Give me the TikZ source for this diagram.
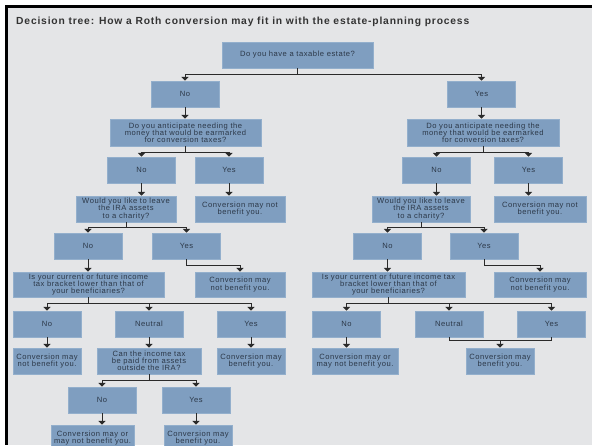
\documentclass[tikz,border=0pt]{standalone}
\usepackage{fontspec}
\setmainfont{Liberation Sans}
\newfontfamily\boxfont[LetterSpace=7]{Liberation Sans}
\newfontfamily\titlefont[LetterSpace=8]{Liberation Sans}
\usetikzlibrary{arrows.meta}
\definecolor{bgc}{HTML}{E4E5E7}
\definecolor{boxblue}{HTML}{7F9EC0}
\definecolor{boxedge}{HTML}{93AFCC}
\definecolor{boxtext}{HTML}{2C3848}
\definecolor{linec}{HTML}{2A2A2A}
\definecolor{titlec}{HTML}{333333}
\begin{document}
\begin{tikzpicture}[x=1pt,y=-1pt,
  bx/.style={rectangle, fill=boxblue, draw=boxedge, line width=0.5pt, inner sep=0pt,
    minimum width=68pt, minimum height=26pt, align=center, text=boxtext,
    font={\boxfont\fontsize{7.6}{7.1}\selectfont}},
  conn/.style={draw=linec, line width=0.9pt},
  arr/.style={conn, -{Triangle[width=7pt,length=3.8pt]}}]
\useasboundingbox (0,0) rectangle (592,445);
\clip (0,0) rectangle (592,445);
\fill[white] (0,0) rectangle (592,445);
\fill[bgc] (5,5) rectangle (592,445);
\fill[black] (5,5) rectangle (592,8);
\fill[black] (5,5) rectangle (8,445);
\node[anchor=base west, inner sep=0pt, text=titlec, font={\titlefont\bfseries\fontsize{10.3}{12}\selectfont}] (title) at (16,24) {Decision tree: How a Roth conversion may fit in with the estate-planning process};

% top
\node[bx, minimum width=151pt] (top) at (297.5,55) {Do you have a taxable estate?};
\node[bx] (lno) at (185,94) {No};
\node[bx] (ryes) at (481.5,94) {Yes};

% left branch
\node[bx, minimum width=151pt, minimum height=27pt] (lq1) at (185.5,132.5) {Do you anticipate needing the\\money that would be earmarked\\for conversion taxes?};
\node[bx] (lno2) at (141.5,170) {No};
\node[bx] (lyes2) at (229,170) {Yes};
\node[bx, minimum width=100pt] (lq2) at (126,209) {Would you like to leave\\the IRA assets\\to a charity?};
\node[bx, minimum width=90pt] (lc2) at (240,209) {Conversion may not\\benefit you.};
\node[bx] (lno3) at (88,246) {No};
\node[bx] (lyes3) at (186.5,246) {Yes};
\node[bx, minimum width=151pt, minimum height=25pt] (lq3) at (88.5,284.5) {Is your current or future income\\tax bracket lower than that of\\your beneficiaries?};
\node[bx, minimum width=90pt, minimum height=25pt] (lc3) at (240,284.5) {Conversion may\\not benefit you.};
\node[bx] (lno4) at (47,324) {No};
\node[bx] (lneu4) at (149,324) {Neutral};
\node[bx] (lyes4) at (251,324) {Yes};
\node[bx] (lc4a) at (47,361) {Conversion may\\not benefit you.};
\node[bx, minimum width=104pt] (lq4) at (149,361) {Can the income tax\\be paid from assets\\outside the IRA?};
\node[bx] (lc4b) at (251,361) {Conversion may\\benefit you.};
\node[bx] (lno5) at (102,400) {No};
\node[bx] (lyes5) at (196,400) {Yes};
\node[bx, minimum width=83pt] (lc5a) at (92.5,438) {Conversion may or\\may not benefit you.};
\node[bx] (lc5b) at (198,438) {Conversion may\\benefit you.};

% right branch
\node[bx, minimum width=152pt, minimum height=27pt] (rq1) at (483,132.5) {Do you anticipate needing the\\money that would be earmarked\\for conversion taxes?};
\node[bx] (rno2) at (436.5,170) {No};
\node[bx] (ryes2) at (528.5,170) {Yes};
\node[bx, minimum width=98pt] (rq2) at (421,209) {Would you like to leave\\the IRA assets\\to a charity?};
\node[bx, minimum width=92pt] (rc2) at (540,209) {Conversion may not\\benefit you.};
\node[bx] (rno3) at (387.5,246) {No};
\node[bx] (ryes3) at (484,246) {Yes};
\node[bx, minimum width=153pt, minimum height=25pt] (rq3) at (388.5,284.5) {Is your current or future income tax\\bracket lower than that of\\your beneficiaries?};
\node[bx, minimum width=92pt, minimum height=25pt] (rc3) at (540,284.5) {Conversion may\\not benefit you.};
\node[bx] (rno4) at (346.5,324) {No};
\node[bx] (rneu4) at (449,324) {Neutral};
\node[bx] (ryes4) at (551.5,324) {Yes};
\node[bx, minimum width=86pt] (rc4a) at (355,361) {Conversion may or\\may not benefit you.};
\node[bx] (rc4b) at (500,361) {Conversion may\\benefit you.};

% connectors top
\draw[arr] (top.south) -- ++(0,6) -| (lno.north);
\draw[arr] (top.south) -- ++(0,6) -| (ryes.north);

% left connectors
\draw[arr] (lno.south) -- (lno.south |- lq1.north);
\draw[arr] (lq1.south) -- ++(0,6) -| (lno2.north);
\draw[arr] (lq1.south) -- ++(0,6) -| (lyes2.north);
\draw[arr] (lno2.south) -- (lno2.south |- lq2.north);
\draw[arr] (lyes2.south) -- (lyes2.south |- lc2.north);
\draw[arr] (lq2.south) -- ++(0,5) -| (lno3.north);
\draw[arr] (lq2.south) -- ++(0,5) -| (lyes3.north);
\draw[arr] (lno3.south) -- (lno3.south |- lq3.north);
\draw[arr] (lyes3.south) -- ++(0,6) -| (lc3.north);
\draw[arr] (lq3.south) -- ++(0,6) -| (lno4.north);
\draw[arr] (lq3.south) -- ++(0,6) -| (lneu4.north);
\draw[arr] (lq3.south) -- ++(0,6) -| (lyes4.north);
\draw[arr] (lno4.south) -- (lno4.south |- lc4a.north);
\draw[arr] (lneu4.south) -- (lneu4.south |- lq4.north);
\draw[arr] (lyes4.south) -- (lyes4.south |- lc4b.north);
\draw[arr] (lq4.south) -- ++(0,6) -| (lno5.north);
\draw[arr] (lq4.south) -- ++(0,6) -| (lyes5.north);
\draw[arr] (lno5.south) -- (lno5.south |- lc5a.north);
\draw[arr] (lyes5.south) -- (lyes5.south |- lc5b.north);

% right connectors
\draw[arr] (ryes.south) -- (ryes.south |- rq1.north);
\draw[arr] (rq1.south) -- ++(0,6) -| (rno2.north);
\draw[arr] (rq1.south) -- ++(0,6) -| (ryes2.north);
\draw[arr] (rno2.south) -- (rno2.south |- rq2.north);
\draw[arr] (ryes2.south) -- (ryes2.south |- rc2.north);
\draw[arr] (rq2.south) -- ++(0,5) -| (rno3.north);
\draw[arr] (rq2.south) -- ++(0,5) -| (ryes3.north);
\draw[arr] (rno3.south) -- (rno3.south |- rq3.north);
\draw[arr] (ryes3.south) -- ++(0,6) -| (rc3.north);
\draw[arr] (rq3.south) -- ++(0,6) -| (rno4.north);
\draw[arr] (rq3.south) -- ++(0,6) -| (rneu4.north);
\draw[arr] (rq3.south) -- ++(0,6) -| (ryes4.north);
\draw[arr] (rno4.south) -- (rno4.south |- rc4a.north);
\draw[conn] (rneu4.south) -- ++(0,3) coordinate (rj) -| (ryes4.south);
\draw[arr] (rc4b.north |- rj) -- (rc4b.north);
\end{tikzpicture}
\end{document}
